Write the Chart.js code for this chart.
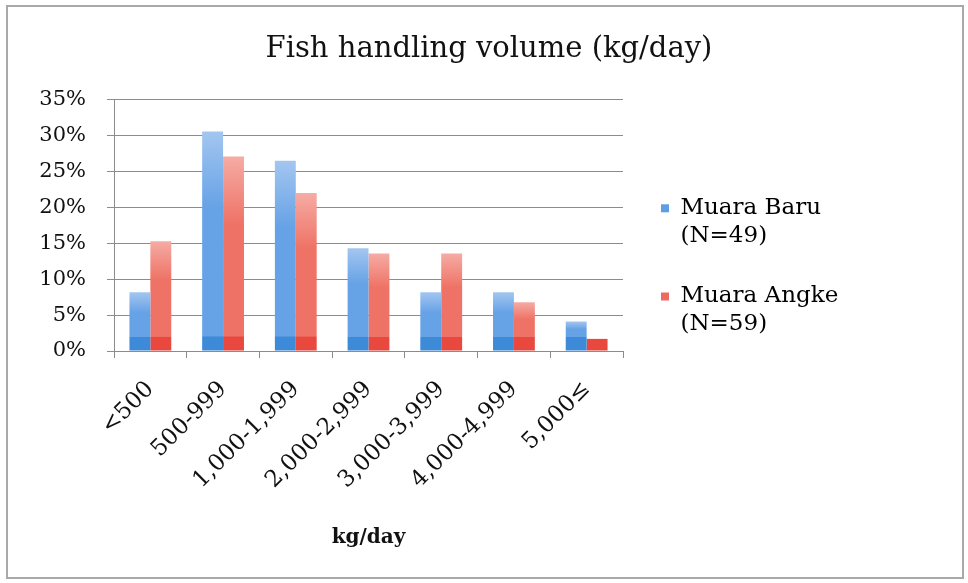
<!DOCTYPE html>
<html>
<head>
<meta charset="utf-8">
<script src="https://cdn.jsdelivr.net/npm/chart.js@4"></script>
<style>
  html, body { margin: 0; padding: 0; background: #fff; }
  #frame {
    position: absolute; left: 6px; top: 5px; width: 958px; height: 574px;
    border: 2px solid #a9a9a9; box-sizing: border-box; background: #fff;
  }
  #graph { display: block; }
</style>
</head>
<body>
<div id="frame"><canvas id="graph" width="954" height="570"></canvas></div>
<script>
"use strict";
const CATEGORIES = ["<500", "500-999", "1,000-1,999", "2,000-2,999", "3,000-3,999", "4,000-4,999", "5,000≤"];
const MUARA_BARU = [8.2, 30.6, 26.5, 14.3, 8.2, 8.2, 4.1];
const MUARA_ANGKE = [15.3, 27.1, 22.0, 13.6, 13.6, 6.8, 1.7];
const SERIES_LABELS = [["Muara Baru", "(N=49)"], ["Muara Angke", "(N=59)"]];
const Y_TICKS = [0, 5, 10, 15, 20, 25, 30, 35];

const FONT = "'DejaVu Serif', 'Liberation Serif', serif";

// light top, mid body, darker strip near the base, like the office style
function barFill(light, mid, dark) {
    return function (context) {
        const chart = context.chart;
        const area = chart.chartArea;
        if (!area) {
            return mid;
        }
        const y = chart.scales.y;
        const top = y.getPixelForValue(context.raw);
        const bottom = y.getPixelForValue(0);
        const h = bottom - top;
        if (!(h > 1)) {
            return mid;
        }
        const g = chart.ctx.createLinearGradient(0, top, 0, bottom);
        const cut = Math.max(0.01, 1 - 14 / h);
        g.addColorStop(0, light);
        g.addColorStop(Math.min(0.35, cut * 0.5), mid);
        g.addColorStop(cut - 0.005, mid);
        g.addColorStop(cut, dark);
        g.addColorStop(1, dark);
        return g;
    };
}

// nudge the legend and title to where the original sits
const layoutShift = {
    id: "layoutShift",
    afterLayout(chart) {
        const l = chart.legend;
        if (l) {
            l.left += 5;
            l.right = chart.width;
            l.width = l.right - l.left;
            l.top -= 19; l.bottom -= 19;
        }
        const t = chart.titleBlock;
        if (t) {
            t.left = 8;
            t.right = chart.width;
            t.width = t.right - t.left;
        }
    },
};

function drawGraph() {
    const data = {
        labels: CATEGORIES,
        datasets: [
            {
                label: SERIES_LABELS[0],
                data: MUARA_BARU,
                backgroundColor: barFill("#a3c6f0", "#66a2e6", "#3d8ad9"),
                categoryPercentage: 0.575,
                barPercentage: 1,
            },
            {
                label: SERIES_LABELS[1],
                data: MUARA_ANGKE,
                backgroundColor: barFill("#f5aca4", "#ef7266", "#e8483e"),
                categoryPercentage: 0.575,
                barPercentage: 1,
            },
        ],
    };
    const config = {
        type: "bar",
        data,
        plugins: [layoutShift],
        options: {
            animation: false,
            responsive: false,
            layout: { padding: { top: 10, left: 6, right: 136, bottom: 19 } },
            plugins: {
                title: {
                    display: true,
                    text: "Fish handling volume (kg/day)",
                    color: "#111",
                    font: { family: FONT, size: 29, weight: "normal" },
                    padding: { top: 15, bottom: 33 },
                },
                legend: {
                    position: "right",
                    labels: {
                        color: "#111",
                        font: { family: FONT, size: 23, lineHeight: 1.2 },
                        boxWidth: 8,
                        boxHeight: 8,
                        padding: 33,
                        generateLabels(chart) {
                            return chart.data.datasets.map(function (ds, i) {
                                return {
                                    text: SERIES_LABELS[i],
                                    fillStyle: i === 0 ? "#5d9de3" : "#ee6a60",
                                    strokeStyle: "rgba(0,0,0,0)",
                                    lineWidth: 0,
                                    datasetIndex: i,
                                    hidden: false,
                                };
                            });
                        },
                    },
                },
                tooltip: { enabled: false },
            },
            scales: {
                x: {
                    grid: {
                        display: true,
                        drawOnChartArea: false,
                        drawTicks: true,
                        tickLength: 7,
                        color: "#8c8c8c",
                        offset: true,
                    },
                    border: { color: "#8c8c8c", width: 1 },
                    ticks: {
                        color: "#111",
                        font: { family: FONT, size: 23 },
                        minRotation: 45,
                        maxRotation: 45,
                        padding: 18,
                        autoSkip: false,
                    },
                    title: {
                        display: true,
                        text: "kg/day",
                        color: "#111",
                        font: { family: FONT, size: 20, weight: "bold" },
                        padding: { top: 4, bottom: 8 },
                    },
                    afterFit(scale) {
                        scale.height = 207;
                    },
                },
                y: {
                    min: 0,
                    max: 35,
                    afterBuildTicks(scale) {
                        scale.ticks = Y_TICKS.map(function (v) { return { value: v }; });
                    },
                    grid: {
                        color: "#8c8c8c",
                        lineWidth: 1,
                        drawTicks: true,
                        tickLength: 7,
                    },
                    border: { color: "#8c8c8c", width: 1 },
                    ticks: {
                        color: "#111",
                        font: { family: FONT, size: 21 },
                        padding: 21,
                        callback: function (v) { return v + "%"; },
                    },
                    afterFit(scale) {
                        scale.width = 100;
                    },
                },
            },
        },
    };
    new Chart(document.getElementById("graph"), config);
}
drawGraph();
</script>
</body>
</html>
